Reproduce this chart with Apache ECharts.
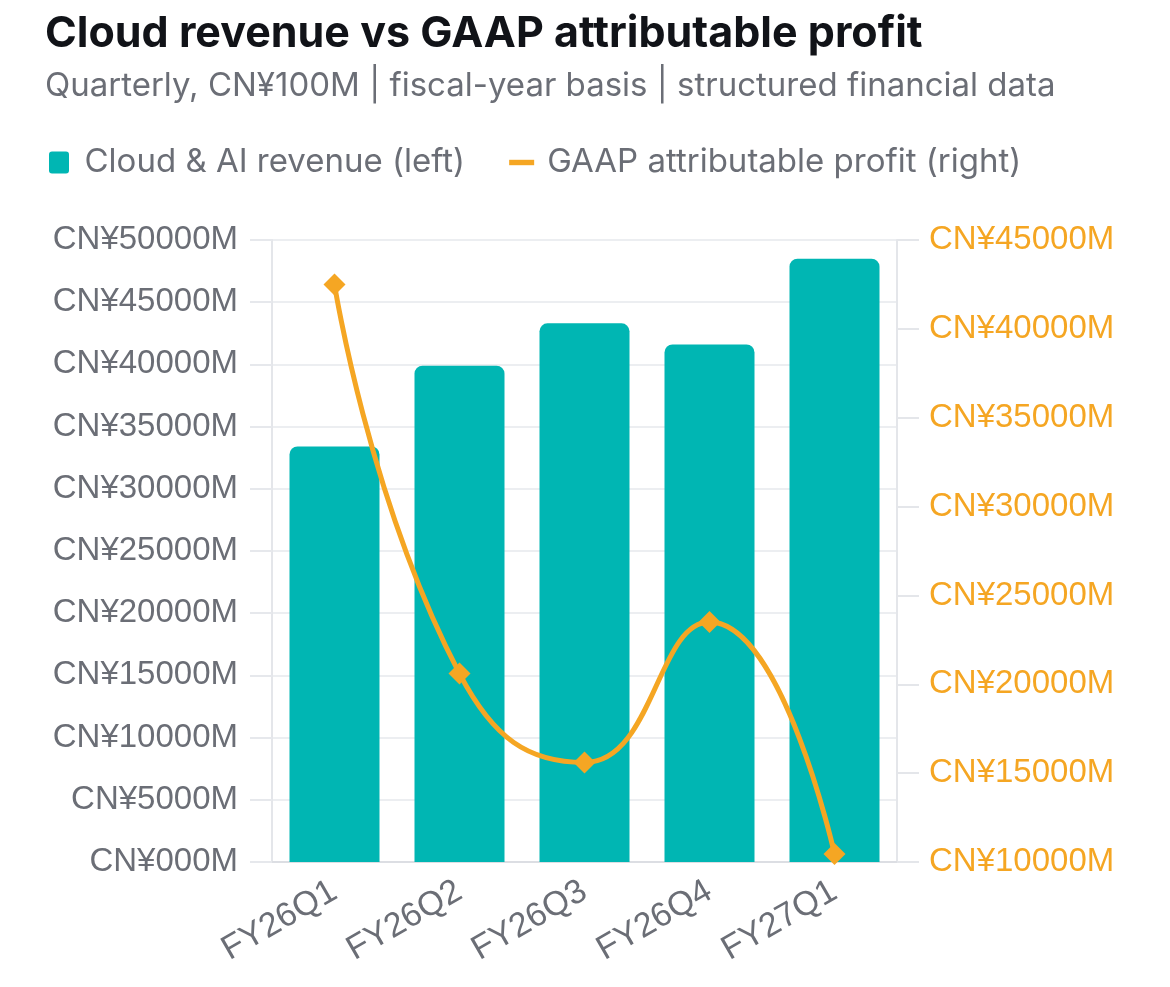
<!DOCTYPE html>
<html>
  <head>
    <meta charset="utf-8" />
    <title>Cloud revenue vs GAAP profit</title>
    <style>
      html, body { margin: 0; padding: 0; background: #fff; }
    </style>
  </head>
  <body>
    <script src="https://cdn.jsdelivr.net/npm/echarts@6/dist/echarts.min.js"></script>

    <div id="container" style="width: 1170px;height: 987px;"></div>

    <script type="text/javascript">
    // values in CN¥100M
    var quarters = ['FY26Q1', 'FY26Q2', 'FY26Q3', 'FY26Q4', 'FY27Q1'];
    var cloudRevenue = [334, 399, 433, 416, 485];
    var gaapProfit = [425, 206, 156, 235, 104.5];

    var axisFont = 'Liberation Sans';
    var textFont = 'Inter';
    var grey = '#6b6e76';
    var orange = '#F5A623';
    var teal = '#00B6B3';

    var myChart = echarts.init(document.getElementById('container'));
    var option = {
      animation: false,
      title: {
        text: 'Cloud revenue vs GAAP attributable profit',
        subtext: 'Quarterly, CN¥100M | fiscal-year basis | structured financial data',
        left: 40,
        top: 8,
        itemGap: 14,
        textStyle: { fontFamily: textFont, fontSize: 43, fontWeight: 'bold', color: '#111318' },
        subtextStyle: { fontFamily: textFont, fontSize: 33, color: grey }
      },
      legend: {
        left: 44,
        top: 141,
        itemWidth: 25,
        itemHeight: 22,
        itemGap: 44,
        textStyle: { fontFamily: textFont, fontSize: 33, color: grey, padding: [0, 0, 0, 8] },
        data: [
          { name: 'Cloud & AI revenue (left)', icon: 'path://M3,0h14a3,3 0 0 1 3,3v16a3,3 0 0 1 -3,3h-14a3,3 0 0 1 -3,-3v-16a3,3 0 0 1 3,-3z' },
          { name: 'GAAP attributable profit (right)', icon: 'path://M0,0h12v2.6H0z' }
        ]
      },
      grid: { left: 272, right: 273, top: 240, bottom: 125 },
      xAxis: {
        type: 'category',
        data: quarters,
        axisLine: { lineStyle: { color: '#dcdee3', width: 2 } },
        axisTick: { show: false },
        axisLabel: { rotate: 30, margin: 27, fontFamily: axisFont, fontSize: 34, color: grey }
      },
      yAxis: [
        {
          type: 'value',
          min: 0,
          max: 500,
          interval: 50,
          axisLine: { show: true, lineStyle: { color: '#e4e6ea', width: 2 } },
          axisTick: { show: true, length: 22, lineStyle: { color: '#e6e8ec', width: 2 } },
          splitLine: { lineStyle: { color: '#eceef1', width: 2 } },
          axisLabel: {
            margin: 34,
            fontFamily: axisFont, fontSize: 33, color: grey,
            formatter: function (v) { return 'CN¥' + v + '00M'; }
          }
        },
        {
          type: 'value',
          min: 100,
          max: 450,
          interval: 50,
          axisLine: { show: true, lineStyle: { color: '#e4e6ea', width: 2 } },
          axisTick: { show: true, length: 22, lineStyle: { color: '#e4e6ea', width: 2 } },
          splitLine: { show: false },
          axisLabel: {
            margin: 32,
            fontFamily: axisFont, fontSize: 33, color: orange,
            formatter: function (v) { return 'CN¥' + v + '00M'; }
          }
        }
      ],
      series: [
        {
          name: 'Cloud & AI revenue (left)',
          type: 'bar',
          data: cloudRevenue,
          barWidth: '72%',
          itemStyle: { color: teal, borderRadius: [8, 8, 0, 0] }
        },
        {
          name: 'GAAP attributable profit (right)',
          type: 'line',
          yAxisIndex: 1,
          data: gaapProfit,
          smooth: true,
          symbol: 'diamond',
          symbolSize: 22,
          lineStyle: { color: orange, width: 5 },
          itemStyle: { color: orange }
        }
      ]
    };
    myChart.setOption(option);

    window.addEventListener('resize', myChart.resize);
    </script>
  </body>
</html>
